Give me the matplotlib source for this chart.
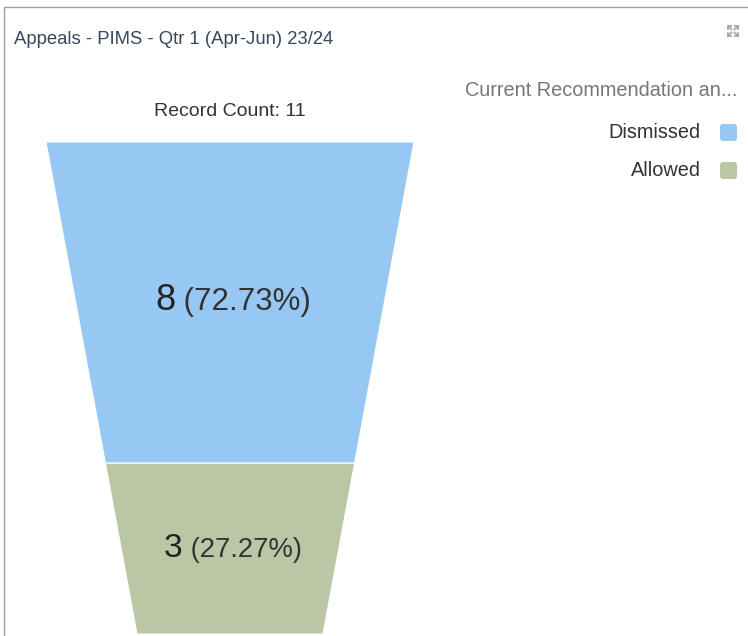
import matplotlib
matplotlib.use("Agg")
import matplotlib.pyplot as plt
from matplotlib.patches import Polygon, Rectangle, FancyBboxPatch

plt.rcParams['font.family'] = ['Liberation Sans', 'DejaVu Sans']

title = "Appeals - PIMS - Qtr 1 (Apr-Jun) 23/24"
legend_title = "Current Recommendation an..."
categories = ["Dismissed", "Allowed"]
counts = [8, 3]
colors = ["#97c8f3", "#bbc6a5"]

total = sum(counts)

W, H = 748, 636
fig = plt.figure(figsize=(W / 100, H / 100), dpi=100)
ax = fig.add_axes([0, 0, 1, 1])
ax.set_xlim(0, W)
ax.set_ylim(H, 0)
ax.axis('off')

# panel frame
ax.add_patch(Rectangle((4.5, 6.5), W + 10, H, fill=False, ec="#a0a0a0", lw=1))

ax.text(14, 39, title, fontsize=13.3, color="#34495e", va='center', ha='left')

# expand icon (top right)
ix, iy = 733, 31
for dx, dy in [(-1, -1), (1, -1), (-1, 1), (1, 1)]:
    x0, y0 = ix + dx * 1.5, iy + dy * 1.5
    x1, y1 = ix + dx * 5, iy + dy * 5
    ax.plot([x0, x1], [y0, y1], color="#aaaaaa", lw=1.3)
    ax.plot([x1, x1 - dx * 3], [y1, y1], color="#aaaaaa", lw=1.3)
    ax.plot([x1, x1], [y1, y1 - dy * 3], color="#aaaaaa", lw=1.3)

ax.text(230, 111, f"Record Count: {total}", fontsize=14, color="#333333",
        ha='center', va='center')

# funnel: trapezoid split so that area is proportional to count
cx = 230
top_y, bot_y = 142, 634
top_w, bot_w = 368, 186
hgt = bot_y - top_y


def width_at(y):
    t = (y - top_y) / hgt
    return top_w + (bot_w - top_w) * t


def area_to(y):
    return (y - top_y) * (top_w + width_at(y)) / 2


full_area = area_to(bot_y)
bounds = [top_y]
acc = 0
for c in counts:
    acc += c
    target = full_area * acc / total
    lo, hi = top_y, bot_y
    for _ in range(60):
        mid = (lo + hi) / 2
        if area_to(mid) < target:
            lo = mid
        else:
            hi = mid
    bounds.append((lo + hi) / 2)

fig.canvas.draw()
renderer = fig.canvas.get_renderer()
num_sizes = [26, 24]
pct_sizes = [22.5, 19.8]
baseline_off = [7, 8]

for i, c in enumerate(counts):
    y0, y1 = bounds[i], bounds[i + 1]
    w0, w1 = width_at(y0), width_at(y1)
    poly = Polygon([(cx - w0 / 2, y0), (cx + w0 / 2, y0), (cx + w1 / 2, y1), (cx - w1 / 2, y1)],
                   closed=True, fc=colors[i], ec="white", lw=0.8)
    ax.add_patch(poly)
    yb = (y0 + y1) / 2 + baseline_off[i]
    t1 = ax.text(0, yb, f"{c}", fontsize=num_sizes[i], color="#222222", ha='left',
                 va='baseline')
    t2 = ax.text(0, yb, f" ({c / total * 100:.2f}%)", fontsize=pct_sizes[i], color="#333333",
                 ha='left', va='baseline')
    b1 = t1.get_window_extent(renderer)
    b2 = t2.get_window_extent(renderer)
    start = cx + 3 - (b1.width + b2.width) / 2
    t1.set_x(start)
    t2.set_x(start + b1.width)

# legend
ax.text(737, 91, legend_title, fontsize=14.3, color="#777777", ha='right', va='center')
for i, cat in enumerate(categories):
    y = 132 + i * 38
    ax.text(701, y, cat, fontsize=14.3, color="#333333", ha='right', va='center')
    ax.add_patch(FancyBboxPatch((720, y - 8), 17, 17, boxstyle="round,pad=0,rounding_size=3",
                                fc=colors[i], ec="none"))

fig.savefig("out.png", dpi=100)
